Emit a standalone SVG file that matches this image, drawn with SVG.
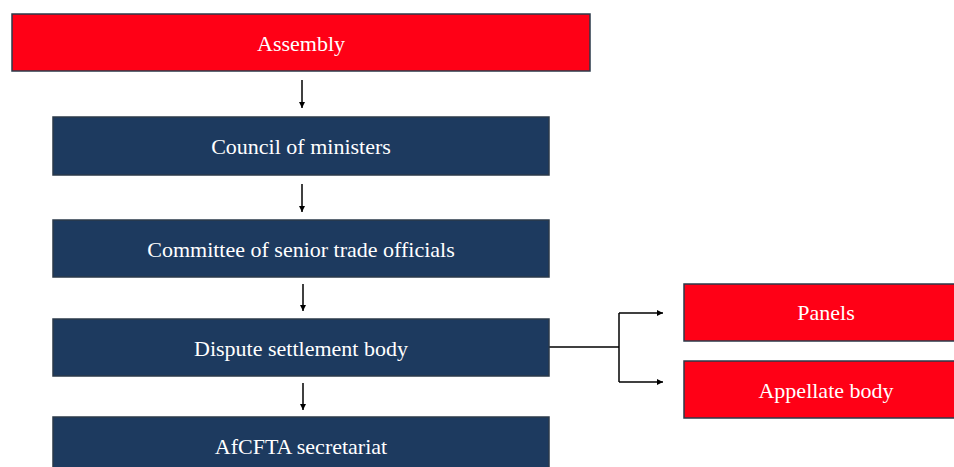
<svg xmlns="http://www.w3.org/2000/svg" width="954" height="467" viewBox="0 0 954 467">
  <style>
    .red { fill: #FF0016; stroke: #2B3A4A; stroke-width: 1.5; }
    .navy { fill: #1D3A5F; stroke: #2B3A4A; stroke-width: 1.5; }
    .label { font-family: "Liberation Serif", "Times New Roman", serif; font-size: 22px; fill: #FFFFFF; text-anchor: middle; dominant-baseline: central; }
    .link { fill: none; stroke: #000000; stroke-width: 1.5; }
  </style>
  <defs>
    <marker id="arrow" viewBox="0 0 10 10" refX="10" refY="5" markerWidth="6" markerHeight="6" markerUnits="userSpaceOnUse" orient="auto">
      <path d="M0,0 L10,5 L0,10 z" fill="#000000"/>
    </marker>
  </defs>
  <rect width="954" height="467" fill="#FFFFFF"/>

  <g id="connectors">
    <line class="link" x1="302" y1="80" x2="302" y2="108" marker-end="url(#arrow)"/>
    <line class="link" x1="302" y1="184" x2="302" y2="212" marker-end="url(#arrow)"/>
    <line class="link" x1="303" y1="284" x2="303" y2="311" marker-end="url(#arrow)"/>
    <line class="link" x1="303" y1="383" x2="303" y2="410" marker-end="url(#arrow)"/>
    <path class="link" d="M549,347 H619"/>
    <path class="link" d="M619,313 V382"/>
    <path class="link" d="M619,313 H663" marker-end="url(#arrow)"/>
    <path class="link" d="M619,382 H663" marker-end="url(#arrow)"/>
  </g>

  <g id="assembly">
    <rect class="red" x="12" y="14" width="578" height="57"/>
    <text class="label" x="301" y="43">Assembly</text>
  </g>
  <g id="council">
    <rect class="navy" x="53" y="117" width="496" height="58"/>
    <text class="label" x="301" y="146">Council of ministers</text>
  </g>
  <g id="committee">
    <rect class="navy" x="53" y="220" width="496" height="57"/>
    <text class="label" x="301" y="249">Committee of senior trade officials</text>
  </g>
  <g id="dispute">
    <rect class="navy" x="53" y="319" width="496" height="57"/>
    <text class="label" x="301" y="348">Dispute settlement body</text>
  </g>
  <g id="secretariat">
    <rect class="navy" x="53" y="417" width="496" height="60"/>
    <text class="label" x="301" y="446">AfCFTA secretariat</text>
  </g>
  <g id="panels">
    <rect class="red" x="684" y="284" width="280" height="57"/>
    <text class="label" x="826" y="312">Panels</text>
  </g>
  <g id="appellate">
    <rect class="red" x="684" y="361" width="280" height="57"/>
    <text class="label" x="826" y="390">Appellate body</text>
  </g>
</svg>
